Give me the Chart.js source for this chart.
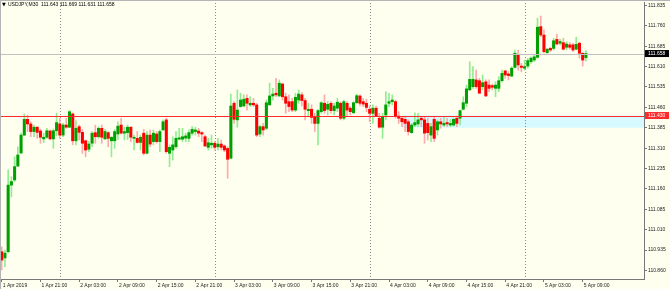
<!DOCTYPE html>
<html>
<head>
<meta charset="utf-8">
<script src="https://cdn.jsdelivr.net/npm/chart.js@4.4.1/dist/chart.umd.min.js"></script>
<style>
  html, body { margin: 0; padding: 0; background: #fffff0; overflow: hidden; }
  canvas { display: block; }
</style>
</head>
<body>
<canvas id="chart" width="670" height="289"></canvas>
<script>
// USDJPY M30, 1 Apr 2019 15:00 .. 5 Apr 2019 09:30 (one entry per bar)
const opens = [
  110.929,110.906,110.929,111.174,111.193,111.244,111.292,111.358,111.416,111.399,
  111.371,111.387,111.373,111.344,111.350,111.373,111.344,111.374,111.399,111.358,
  111.395,111.387,111.436,111.337,111.389,111.368,111.337,111.306,111.328,111.367,
  111.352,111.383,111.344,111.367,111.337,111.337,111.362,111.395,111.365,111.367,
  111.387,111.346,111.346,111.331,111.365,111.291,111.358,111.334,111.362,111.334,
  111.377,111.414,111.291,111.303,111.315,111.343,111.343,111.347,111.346,111.365,
  111.371,111.373,111.367,111.352,111.313,111.322,111.328,111.315,111.325,111.318,
  111.309,111.273,111.475,111.414,111.463,111.465,111.493,111.469,111.475,111.469,
  111.362,111.389,111.383,111.469,111.502,111.512,111.502,111.546,111.499,111.481,
  111.481,111.450,111.487,111.506,111.485,111.448,111.453,111.426,111.401,111.444,
  111.475,111.453,111.475,111.448,111.457,111.475,111.420,111.475,111.457,111.440,
  111.477,111.502,111.481,111.475,111.453,111.438,111.457,111.420,111.387,111.432,
  111.475,111.481,111.481,111.428,111.420,111.416,111.407,111.367,111.395,111.399,
  111.420,111.414,111.401,111.358,111.416,111.377,111.407,111.395,111.404,111.395,
  111.395,111.420,111.420,111.453,111.475,111.524,111.536,111.561,111.558,111.536,
  111.554,111.542,111.540,111.530,111.530,111.558,111.594,111.583,111.575,111.607,
  111.653,111.612,111.604,111.612,111.628,111.634,111.644,111.757,111.726,111.661,
  111.677,111.677,111.710,111.696,111.698,111.681,111.690,111.690,111.674,111.696,
  111.659,111.643
];
const highs = [
  110.947,110.935,111.230,111.205,111.278,111.315,111.365,111.436,111.432,111.407,
  111.395,111.389,111.380,111.365,111.383,111.377,111.380,111.438,111.420,111.401,
  111.420,111.448,111.440,111.411,111.395,111.379,111.340,111.334,111.371,111.395,
  111.389,111.395,111.379,111.371,111.352,111.379,111.407,111.420,111.387,111.395,
  111.389,111.358,111.371,111.358,111.379,111.371,111.377,111.377,111.371,111.377,
  111.414,111.420,111.322,111.352,111.371,111.383,111.383,111.365,111.377,111.389,
  111.387,111.383,111.371,111.358,111.346,111.358,111.334,111.346,111.340,111.322,
  111.315,111.509,111.481,111.524,111.512,111.506,111.506,111.499,111.493,111.475,
  111.395,111.401,111.487,111.549,111.530,111.567,111.561,111.549,111.512,111.506,
  111.493,111.512,111.524,111.514,111.493,111.475,111.469,111.438,111.453,111.481,
  111.506,111.481,111.481,111.475,111.493,111.481,111.487,111.481,111.463,111.481,
  111.509,111.506,111.493,111.490,111.465,111.469,111.465,111.438,111.438,111.518,
  111.512,111.506,111.487,111.444,111.426,111.426,111.414,111.401,111.440,111.438,
  111.426,111.426,111.420,111.401,111.426,111.414,111.420,111.426,111.420,111.414,
  111.420,111.428,111.450,111.499,111.542,111.628,111.610,111.597,111.567,111.579,
  111.561,111.561,111.546,111.554,111.573,111.597,111.597,111.591,111.610,111.671,
  111.671,111.622,111.634,111.641,111.646,111.653,111.788,111.796,111.745,111.677,
  111.681,111.714,111.730,111.710,111.714,111.702,111.698,111.696,111.718,111.699,
  111.661,111.669
];
const lows = [
  110.862,110.874,110.925,111.131,111.187,111.242,111.291,111.356,111.371,111.352,
  111.352,111.346,111.328,111.330,111.346,111.340,111.309,111.355,111.346,111.352,
  111.383,111.385,111.322,111.322,111.340,111.291,111.278,111.297,111.315,111.328,
  111.346,111.328,111.342,111.315,111.278,111.309,111.342,111.362,111.340,111.342,
  111.334,111.303,111.328,111.303,111.285,111.289,111.315,111.322,111.328,111.297,
  111.375,111.291,111.242,111.266,111.309,111.340,111.334,111.334,111.334,111.358,
  111.358,111.352,111.334,111.315,111.303,111.309,111.303,111.303,111.303,111.297,
  111.199,111.270,111.401,111.387,111.460,111.463,111.450,111.463,111.463,111.352,
  111.352,111.358,111.377,111.469,111.487,111.499,111.499,111.487,111.438,111.444,
  111.444,111.444,111.475,111.465,111.414,111.426,111.401,111.371,111.322,111.438,
  111.438,111.432,111.438,111.432,111.444,111.414,111.414,111.426,111.432,111.438,
  111.475,111.465,111.463,111.444,111.407,111.401,111.426,111.383,111.346,111.414,
  111.463,111.469,111.420,111.401,111.389,111.371,111.358,111.365,111.389,111.389,
  111.389,111.328,111.340,111.334,111.334,111.358,111.383,111.389,111.389,111.389,
  111.391,111.389,111.395,111.450,111.463,111.524,111.530,111.530,111.512,111.524,
  111.499,111.518,111.524,111.499,111.518,111.554,111.567,111.561,111.573,111.604,
  111.597,111.591,111.597,111.604,111.622,111.628,111.641,111.720,111.659,111.659,
  111.665,111.671,111.690,111.690,111.671,111.671,111.674,111.665,111.671,111.641,
  111.612,111.631
];
const closes = [
  110.898,110.924,111.174,111.187,111.242,111.285,111.358,111.416,111.399,111.371,
  111.387,111.368,111.350,111.350,111.374,111.344,111.374,111.404,111.358,111.395,
  111.387,111.444,111.337,111.383,111.368,111.328,111.303,111.325,111.365,111.352,
  111.383,111.350,111.371,111.346,111.350,111.371,111.391,111.365,111.371,111.387,
  111.350,111.350,111.331,111.350,111.291,111.358,111.325,111.365,111.334,111.371,
  111.407,111.297,111.313,111.322,111.346,111.348,111.352,111.355,111.367,111.379,
  111.377,111.365,111.362,111.318,111.330,111.328,111.313,111.325,111.313,111.303,
  111.269,111.465,111.416,111.450,111.487,111.490,111.475,111.475,111.469,111.358,
  111.389,111.377,111.477,111.502,111.509,111.506,111.549,111.499,111.475,111.463,
  111.450,111.497,111.509,111.485,111.453,111.453,111.423,111.401,111.448,111.477,
  111.448,111.471,111.448,111.465,111.479,111.420,111.481,111.450,111.444,111.477,
  111.503,111.475,111.472,111.460,111.438,111.457,111.428,111.387,111.426,111.469,
  111.481,111.487,111.428,111.420,111.407,111.401,111.371,111.395,111.404,111.414,
  111.414,111.365,111.367,111.389,111.346,111.407,111.399,111.401,111.399,111.401,
  111.416,111.401,111.448,111.477,111.528,111.563,111.563,111.536,111.512,111.551,
  111.502,111.530,111.534,111.542,111.558,111.585,111.579,111.577,111.604,111.659,
  111.616,111.607,111.610,111.632,111.641,111.646,111.755,111.726,111.665,111.674,
  111.671,111.705,111.693,111.702,111.674,111.693,111.681,111.671,111.692,111.659,
  111.634,111.658
];

// time axis labels (one every 12 bars = 6 hours)
const timeLabels = [
  '1 Apr 2019', '1 Apr 21:00', '2 Apr 03:00', '2 Apr 09:00', '2 Apr 15:00', '2 Apr 21:00',
  '3 Apr 03:00', '3 Apr 09:00', '3 Apr 15:00', '3 Apr 21:00', '4 Apr 03:00', '4 Apr 09:00',
  '4 Apr 15:00', '4 Apr 21:00', '5 Apr 03:00', '5 Apr 09:00'
];
const timeLabelBars = timeLabels.map((t, k) => k * 12);
const priceTicks = [110.860, 110.935, 111.010, 111.085, 111.160, 111.235, 111.310,
  111.385, 111.460, 111.535, 111.610, 111.685, 111.760, 111.835];
const daySeparatorBars = [18, 66, 114, 162];

const symbolInfo = 'USDJPY,M30  111.643 111.669 111.631 111.658';
const bidPrice = 111.658;
const levelPrice = 111.430;
const zoneTop = 111.430, zoneBottom = 111.385, zoneStartBar = 124;

const upBody = '#00a000', downBody = '#ff0000';
const upWick = '#90ee90', downWick = '#ffaaaa';
const FONT = "'Liberation Sans', Arial, sans-serif";

const isUp = closes.map((c, i) => c >= opens[i]);
const wickData = highs.map((h, i) => ({ x: i, y: [lows[i], h] }));
const bodyData = opens.map((o, i) => ({ x: i, y: [o, closes[i]] }));

const mt4Overlay = {
  id: 'mt4Overlay',
  beforeDatasetsDraw(chart) {
    const { ctx, chartArea: a, scales: { x, y } } = chart;
    ctx.save();
    // rectangle object
    const zx = x.getPixelForValue(zoneStartBar);
    const zt = y.getPixelForValue(zoneTop), zb = y.getPixelForValue(zoneBottom);
    ctx.fillStyle = 'rgb(214,250,255)';
    ctx.fillRect(zx, zt, a.right - zx, zb - zt);
    // period separators
    ctx.strokeStyle = '#8a8a8a';
    ctx.lineWidth = 1;
    ctx.setLineDash([1, 2]);
    daySeparatorBars.forEach(b => {
      const px = Math.round(x.getPixelForValue(b)) + 0.5;
      ctx.beginPath(); ctx.moveTo(px, 0); ctx.lineTo(px, a.bottom); ctx.stroke();
    });
    ctx.restore();
  },
  afterDatasetsDraw(chart) {
    const { ctx, chartArea: a, scales: { y } } = chart;
    ctx.save();
    ctx.lineWidth = 1;
    const by = Math.round(y.getPixelForValue(bidPrice)) + 0.5;
    ctx.strokeStyle = '#c0c0c0';
    ctx.beginPath(); ctx.moveTo(a.left, by); ctx.lineTo(a.right, by); ctx.stroke();
    const ly = Math.round(y.getPixelForValue(levelPrice)) + 0.5;
    ctx.strokeStyle = '#ff2a2a';
    ctx.beginPath(); ctx.moveTo(a.left, ly); ctx.lineTo(a.right, ly); ctx.stroke();
    ctx.restore();
  },
  afterDraw(chart) {
    const { ctx, chartArea: a, scales: { y } } = chart;
    ctx.save();
    // price tags on the axis
    ctx.font = '5px ' + FONT;
    ctx.textBaseline = 'middle';
    [[bidPrice, '#000000'], [levelPrice, '#ff2a2a']].forEach(([p, col]) => {
      const py = y.getPixelForValue(p);
      ctx.fillStyle = col;
      ctx.fillRect(a.right + 1, py - 3.5, 24, 7);
      ctx.fillStyle = '#ffffff';
      ctx.fillText(p.toFixed(3), a.right + 4, py);
    });
    // symbol line
    ctx.fillStyle = '#000000';
    ctx.font = "5px 'DejaVu Sans'";
    ctx.fillText('\u25BC', 2, 5);
    ctx.font = '5px ' + FONT;
    ctx.fillText(symbolInfo, 8, 5);
    // window frame
    ctx.strokeStyle = '#b4b4b4';
    ctx.beginPath(); ctx.moveTo(0.5, 0); ctx.lineTo(0.5, 289); ctx.stroke();
    ctx.beginPath(); ctx.moveTo(0, 0.5); ctx.lineTo(670, 0.5); ctx.stroke();
    ctx.restore();
  }
};

Chart.defaults.font.family = FONT;
Chart.defaults.font.size = 5;
Chart.defaults.color = '#222222';

new Chart(document.getElementById('chart'), {
  type: 'bar',
  data: {
    datasets: [
      {
        label: 'body',
        data: bodyData,
        backgroundColor: isUp.map(u => u ? upBody : downBody),
        barThickness: 2.4,
        minBarLength: 1,
        grouped: false,
        order: 0
      },
      {
        label: 'wick',
        data: wickData,
        backgroundColor: isUp.map(u => u ? upWick : downWick),
        barThickness: 1,
        minBarLength: 1,
        grouped: false,
        order: 1
      }
    ]
  },
  options: {
    responsive: false,
    animation: false,
    devicePixelRatio: 1,
    layout: { padding: { left: 1, top: 2, right: 0, bottom: 0 } },
    plugins: { legend: { display: false }, tooltip: { enabled: false } },
    scales: {
      x: {
        type: 'linear',
        offset: false,
        min: -0.22,
        max: 199,
        grid: { offset: false, drawOnChartArea: false, drawTicks: true, tickLength: 3, color: '#777777' },
        border: { color: '#777777' },
        afterBuildTicks: s => { s.ticks = timeLabelBars.map(v => ({ value: v })); },
        afterFit: s => { s.height = 10; s.paddingLeft = 0; s.paddingRight = 0; },
        ticks: {
          autoSkip: false,
          maxRotation: 0,
          align: 'start',
          padding: 1,
          labelOffset: 1,
          callback: (v, i) => timeLabels[i]
        }
      },
      y: {
        position: 'right',
        min: 110.8286,
        max: 111.8476,
        grid: { drawOnChartArea: false, drawTicks: true, tickLength: 3, color: '#777777' },
        border: { color: '#777777' },
        afterBuildTicks: s => { s.ticks = priceTicks.map(v => ({ value: v })); },
        afterFit: s => { s.width = 26; s.paddingTop = 0; s.paddingBottom = 0; },
        ticks: { padding: 1, callback: v => v.toFixed(3) }
      }
    }
  },
  plugins: [mt4Overlay]
});
</script>
</body>
</html>
